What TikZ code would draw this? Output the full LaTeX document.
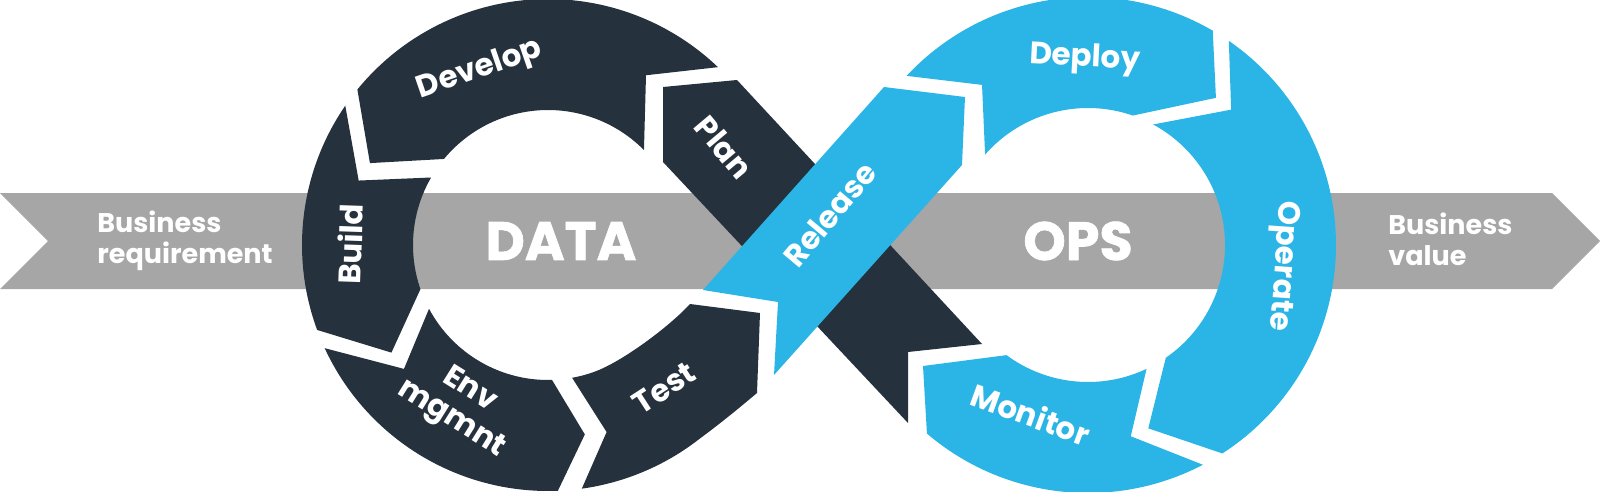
\documentclass[tikz,border=0pt]{standalone}
\usepackage{fontspec}
\setmainfont{Poppins}
\usetikzlibrary{calc}

\definecolor{slate}{HTML}{25313C}
\definecolor{sky}{HTML}{2BB5E6}
\definecolor{bandgray}{HTML}{A6A6A6}

\tikzset{
  ringlabel/.style={text=white,font=\bfseries\fontsize{15.5}{17}\selectfont,inner sep=0pt,align=center},
  biglabel/.style={text=white,font=\bfseries\addfontfeatures{FakeBold=1.2}\fontsize{27}{30}\selectfont,inner sep=0pt},
  bandlabel/.style={text=white,font=\bfseries\fontsize{13.5}{15.5}\selectfont,inner sep=0pt,align=left,anchor=west}
}

\begin{document}
\begin{tikzpicture}[x=0.5pt,y=-0.5pt]
  \useasboundingbox (0,0) rectangle (1600,492);
  \coordinate (L) at (548,245);
  \coordinate (R) at (1088,245);

  % grey band
  \fill[bandgray] (0,193) -- (1552,193) -- (1600,241) -- (1552,289) -- (0,289) -- (48,241) -- cycle;

  % left loop
  \begin{scope}[fill=slate]
    % Plan strip
    \fill (737,80) -- (982,344) -- (908,352) -- (908,423) -- (663,162) -- (663,87) -- cycle;
    % Develop
    \fill ($(L)+(-46.3:246)$) arc[start angle=-46.3,end angle=-140.8,radius=246]
      -- ($(L)+(-155.3:196)$) -- ($(L)+(-140.4:135)$)
      arc[start angle=-140.4,end angle=-44.7,radius=135]
      -- ($(L)+(-60:196)$) -- cycle;
    % Build
    \fill ($(L)+(-145.5:246)$) arc[start angle=-145.5,end angle=-200.2,radius=246]
      -- ($(L)+(145.5:190)$) -- ($(L)+(160.9:135)$)
      arc[start angle=160.9,end angle=210,radius=135]
      -- ($(L)+(-161.2:200)$) -- cycle;
    % Env mgmnt
    \fill ($(L)+(155.2:246)$) arc[start angle=155.2,end angle=87.7,radius=246]
      -- ($(L)+(79:193)$) -- ($(L)+(88.3:135)$)
      arc[start angle=88.3,end angle=151.8,radius=135]
      -- ($(L)+(139.3:190)$) -- cycle;
    % Test
    \fill ($(L)+(82.1:246)$) arc[start angle=82.1,end angle=52,radius=246]
      .. controls (725,420) and (745,403) .. (757,393)
      -- (760,313) -- (690,304)
      .. controls (670,326) and (622,362) .. ($(L)+(70:135)$)
      arc[start angle=70,end angle=79.7,radius=135]
      -- ($(L)+(72.6:196)$) -- cycle;
  \end{scope}

  % right loop
  \begin{scope}[fill=sky]
    % Release strip
    \fill (884,87) -- (965,97) -- (962,165) -- (774,375) -- (778,302) -- (703,290) -- cycle;
    % Deploy
    \fill ($(R)+(-137:248)$) arc[start angle=-137,end angle=-59.8,radius=248]
      -- ($(R)+(-49:195)$) -- ($(R)+(-70.9:137)$)
      arc[start angle=-70.9,end angle=-138.7,radius=137]
      -- ($(R)+(-123.5:192)$) -- cycle;
    % Operate
    \fill ($(R)+(-55.4:248)$) arc[start angle=-55.4,end angle=57.2,radius=248]
      -- ($(R)+(71.8:193)$) -- ($(R)+(55.4:137)$)
      arc[start angle=55.4,end angle=-61.6,radius=137]
      -- ($(R)+(-43.4:197)$) -- cycle;
    % Monitor
    \fill ($(R)+(62.4:248)$) arc[start angle=62.4,end angle=130.5,radius=248]
      -- (923,366) -- ($(R)+(126.5:137)$)
      arc[start angle=126.5,end angle=64.7,radius=137]
      -- ($(R)+(77.4:196)$) -- cycle;
  \end{scope}

  % labels
  \node[bandlabel] (bizreq) at (97,241) {Business\\requirement};
  \node[bandlabel] (bizval) at (1388,239) {Business\\value};
  \node[biglabel] (data) at (561,241) {DATA};
  \node[biglabel] (ops) at (1078,241) {OPS};

  \begin{scope}[every node/.style={ringlabel}]
    \node[rotate=-50] (plan) at (724,147) {Plan};
    \node[rotate=19] (develop) at (480,70) {Develop};
    \node[rotate=88] (build) at (350,244) {Build};
    \node[rotate=-32] (envmgmnt) at (460,405) {Env\\mgmnt};
    \node[rotate=33] (test) at (664,388) {Test};
    \node[rotate=50] (release) at (830,214) {Release};
    \node[rotate=-3] (deploy) at (1085,59) {Deploy};
    \node[rotate=-94] (operate) at (1282,266) {Operate};
    \node[rotate=-20] (monitor) at (1031,414) {Monitor};
  \end{scope}

\end{tikzpicture}
\end{document}
